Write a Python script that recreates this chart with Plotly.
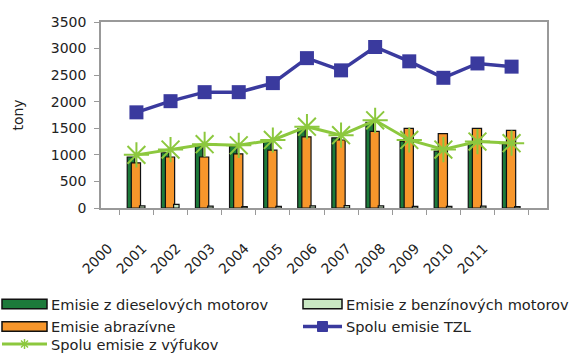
import plotly.graph_objects as go

# Emissions of particulate matter (TZL) from road transport, in tonnes
years = ["2000", "2001", "2002", "2003", "2004", "2005",
         "2006", "2007", "2008", "2009", "2010", "2011"]
diesel = [960, 1040, 1165, 1160, 1250, 1490, 1320, 1610, 1260, 1070, 1210, 1200]
petrol = [40, 70, 35, 25, 30, 40, 45, 40, 30, 30, 35, 25]
abrasion = [850, 960, 960, 1020, 1090, 1340, 1280, 1440, 1500, 1400, 1500, 1460]
total_tzl = [1800, 2010, 2180, 2180, 2350, 2820, 2590, 3030, 2760, 2450, 2720, 2660]
total_exhaust = [1000, 1100, 1200, 1180, 1280, 1530, 1370, 1650, 1280, 1100, 1250, 1220]

names = {
    "diesel": "Emisie z dieselových motorov",
    "petrol": "Emisie z benzínových motorov",
    "abrasion": "Emisie abrazívne",
    "tzl": "Spolu emisie TZL",
    "exhaust": "Spolu emisie z výfukov",
}

C_DIESEL = "#1c7a3a"
C_PETROL = "#c9e8c3"
C_ABR = "#f7962b"
C_TZL = "#3a3a9e"
C_EXH = "#8cc83e"
FONT = "DejaVu Sans, Verdana, sans-serif"
TEXT = "#222222"

fig = go.Figure()

outline = dict(color="#111111", width=1.2)
fig.add_bar(x=years, y=diesel, name=names["diesel"], marker=dict(color=C_DIESEL, line=outline),
            offset=-0.27, width=0.22)
fig.add_bar(x=years, y=abrasion, name=names["abrasion"], marker=dict(color=C_ABR, line=outline),
            offset=-0.15, width=0.27)
fig.add_bar(x=years, y=petrol, name=names["petrol"], marker=dict(color=C_PETROL, line=outline),
            offset=0.09, width=0.16)
fig.add_scatter(x=years, y=total_tzl, name=names["tzl"], mode="lines+markers",
                line=dict(color=C_TZL, width=3.5),
                marker=dict(symbol="square", size=14, color=C_TZL))
fig.add_scatter(x=years, y=total_exhaust, name=names["exhaust"], mode="lines+markers",
                line=dict(color=C_EXH, width=3),
                marker=dict(symbol="asterisk-open", size=21, color=C_EXH,
                            line=dict(color=C_EXH, width=2)))

# plot-area geometry in pixels (used for the hand-built legend below)
W_FIG, H_FIG = 578, 354
L, R, T, B = 101, 547, 22, 208
PW, PH = R - L, B - T


def px(x):
    return (x - L) / PW


def py(y):
    return (B - y) / PH


shapes = []
annotations = []

# legend: (key, kind, color, icon x0, icon x1, row centre y)
legend_items = [
    ("diesel", "box", C_DIESEL, 2, 47, 304),
    ("petrol", "box", C_PETROL, 303, 342, 304),
    ("abrasion", "box", C_ABR, 2, 47, 326.5),
    ("tzl", "line_square", C_TZL, 303, 342, 326.5),
    ("exhaust", "line_star", C_EXH, 2, 47, 344),
]
for key, kind, color, x0, x1, yc in legend_items:
    if kind == "box":
        shapes.append(dict(type="rect", xref="paper", yref="paper",
                           x0=px(x0), x1=px(x1), y0=py(yc + 4.7), y1=py(yc - 4.7),
                           fillcolor=color, line=dict(color="#111111", width=1.5)))
    else:
        lw = 3.5 if kind == "line_square" else 3
        shapes.append(dict(type="line", xref="paper", yref="paper",
                           x0=px(x0), x1=px(x1), y0=py(yc), y1=py(yc),
                           line=dict(color=color, width=lw)))
        xm = (x0 + x1) / 2
        if kind == "line_square":
            shapes.append(dict(type="rect", xref="paper", yref="paper",
                               x0=px(xm - 5), x1=px(xm + 5), y0=py(yc + 5), y1=py(yc - 5),
                               fillcolor=color, line=dict(color=color, width=1)))
        else:
            r = 5
            for dx, dy in [(r, 0), (0, r), (r * 0.7, r * 0.7), (r * 0.7, -r * 0.7)]:
                shapes.append(dict(type="line", xref="paper", yref="paper",
                                   x0=px(xm - dx), x1=px(xm + dx),
                                   y0=py(yc - dy), y1=py(yc + dy),
                                   line=dict(color=color, width=1.5)))
    annotations.append(dict(text=names[key], xref="paper", yref="paper",
                            x=px(x1 + 2), y=py(yc), xanchor="left", yanchor="middle",
                            showarrow=False, font=dict(family=FONT, size=14.6, color=TEXT)))

fig.update_layout(
    width=W_FIG, height=H_FIG,
    margin=dict(l=L, r=W_FIG - R, t=T, b=H_FIG - B, pad=0),
    paper_bgcolor="white", plot_bgcolor="white",
    barmode="overlay",
    showlegend=False,
    font=dict(family=FONT, color=TEXT),
    shapes=shapes,
    annotations=annotations,
    xaxis=dict(
        type="category", showgrid=False, tickson="boundaries",
        ticks="outside", ticklen=5, tickcolor="#999999",
        showline=True, linecolor="#999999", linewidth=1.5, mirror=True,
        tickangle=-45, tickfont=dict(size=14, color=TEXT),
        ticklabelstandoff=25, ticklabelshift=-28,
    ),
    yaxis=dict(
        range=[0, 3500], dtick=500, showgrid=False, zeroline=False,
        ticks="outside", ticklen=5, tickcolor="#999999",
        showline=True, linecolor="#999999", linewidth=1.5, mirror=True,
        tickfont=dict(size=14, color=TEXT), ticklabelstandoff=5,
        title=dict(text="tony", font=dict(size=14, color=TEXT), standoff=24),
    ),
)

fig.write_html("out.html")
